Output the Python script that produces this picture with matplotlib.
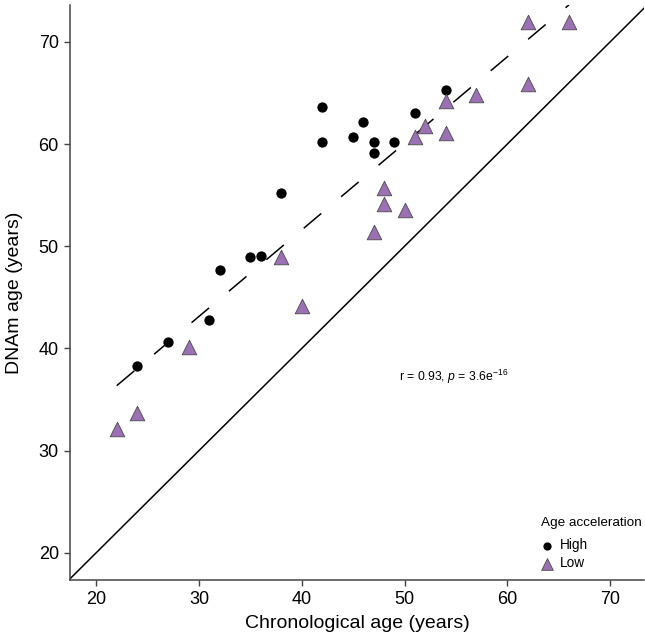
import matplotlib
matplotlib.use("Agg")
import matplotlib.pyplot as plt
import numpy as np

plt.rcParams['font.family'] = ['Liberation Sans', 'DejaVu Sans']
plt.rcParams['mathtext.fontset'] = 'custom'
plt.rcParams['mathtext.rm'] = 'Liberation Sans'
plt.rcParams['mathtext.it'] = 'Liberation Sans:italic'

# High age acceleration samples
high_age = [24, 27, 31, 32, 35, 36, 38, 42, 42, 45, 46, 47, 47, 49, 51, 54]
high_dnam = [38.3, 40.6, 42.8, 47.7, 48.9, 49.0, 55.2, 63.6, 60.2, 60.7, 62.2, 60.2, 59.1, 60.2, 63.0, 65.3]

# Low age acceleration samples
low_age = [22, 24, 29, 38, 40, 47, 48, 48, 50, 51, 52, 54, 54, 57, 62, 62, 66]
low_dnam = [32.1, 33.7, 40.1, 48.9, 44.2, 51.4, 55.7, 54.1, 53.5, 60.7, 61.8, 61.1, 64.2, 64.8, 65.9, 71.9, 71.9]

r_text = "r = 0.93, $\\it{p}$ = 3.6e$^{-16}$"

fig = plt.figure(figsize=(6.45, 6.4), dpi=100)
ax = fig.add_axes([0.1085, 0.094, 0.89, 0.898])

# identity line
ax.plot([0, 100], [0, 100], color='black', lw=1.1, zorder=1)

# regression line over all samples
all_x = np.array(high_age + low_age, dtype=float)
all_y = np.array(high_dnam + low_dnam, dtype=float)
slope, intercept = np.polyfit(all_x, all_y, 1)
xs = np.array([all_x.min(), all_x.max()])
ax.plot(xs, intercept + slope * xs, color='black', lw=1.1,
        dashes=(15, 17), zorder=1)

ax.scatter(high_age, high_dnam, s=55, color='black', marker='o',
           linewidths=0, zorder=3, label='High')
ax.scatter(low_age, low_dnam, s=110, color='#9b70b4', marker='^',
           edgecolors='#4a4a4a', linewidths=0.6, zorder=3, label='Low')

ax.text(54.8, 37.2, r_text, ha='center', va='center', fontsize=8.8)

ax.set_xlim(17.45, 73.3)
ax.set_ylim(17.35, 73.6)
ax.set_xticks([20, 30, 40, 50, 60, 70])
ax.set_yticks([20, 30, 40, 50, 60, 70])

for side in ['top', 'right']:
    ax.spines[side].set_visible(False)
for side in ['left', 'bottom']:
    ax.spines[side].set_color('#444444')
    ax.spines[side].set_linewidth(1.1)
ax.tick_params(colors='#444444', length=4, width=1.0, labelsize=13,
               labelcolor='black', pad=4)

ax.set_xlabel('Chronological age (years)', fontsize=14, labelpad=5)
ax.set_ylabel('DNAm age (years)', fontsize=14, labelpad=11)

leg = ax.legend(title='Age acceleration', loc='lower right',
                bbox_to_anchor=(1.012, 0.0), frameon=False, fontsize=9.8,
                title_fontsize=9.7, handlelength=1.0, handletextpad=0.4,
                borderaxespad=0.3, labelspacing=0.3, markerscale=0.8)
leg._legend_box.align = 'left'
leg._legend_box.sep = 7

fig.savefig('out.png', dpi=100)
